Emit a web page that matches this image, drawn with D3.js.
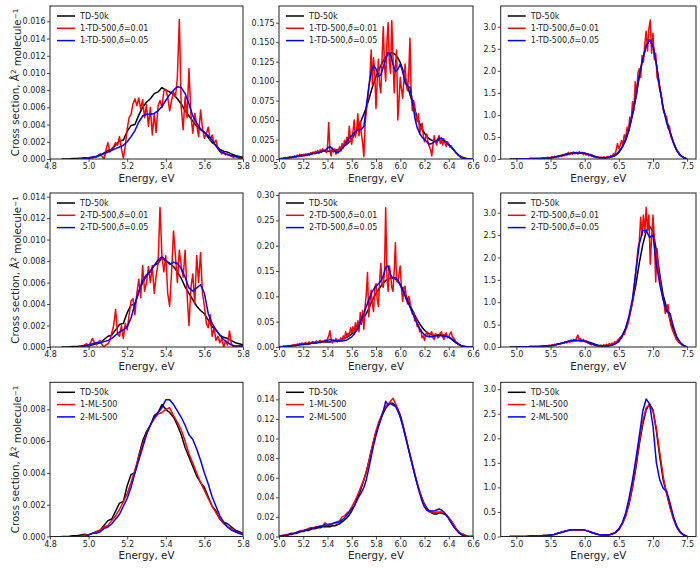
<!DOCTYPE html>
<html><head><meta charset="utf-8">
<script src="https://cdn.jsdelivr.net/npm/d3@7"></script>
<style>
body{margin:0;background:#fff}
svg{display:block}
text{font-family:"DejaVu Sans",sans-serif}
</style>
</head><body>
<svg id="c" width="700" height="569"></svg>
<script>
// ---------------- DATA ----------------
// Column 1 (4.8 - 5.8 eV)
const c1BlackStart = 4.86, c1BlackStep = 0.02;
const c1Black = [0.0000,0.0000,0.00002,0.00005,0.00005,0.0001,0.00015,0.0001,0.0002,0.0003,
0.0004,0.0007,0.0010,0.0011,0.0016,0.0021,0.0022,0.0032,0.0039,0.0040,
0.0051,0.0060,0.0066,0.0070,0.0076,0.0078,0.0083,0.0080,0.0078,0.0075,
0.0070,0.0064,0.0056,0.0050,0.0044,0.0038,0.0034,0.0031,0.0025,0.0019,
0.0016,0.0011,0.0009,0.0008,0.0006,0.0004,0.0003,0.0002];

const c1r1RedStart = 4.95, c1r1RedStep = 0.01;
const c1r1Red = [0.0000,0.0000,0.0001,0.0000,0.0001,0.0001,0.0002,0.0001,0.0003,0.0002,
0.0004,0.0006,0.0003,0.0000,0.0010,0.0019,0.0008,0.0012,0.0015,0.0019,
0.0016,0.0026,0.0012,0.0001,0.0015,0.0035,0.0048,0.0052,0.0064,0.0070,
0.0062,0.0071,0.0058,0.0069,0.0048,0.0063,0.0038,0.0060,0.0028,0.0052,
0.0031,0.0062,0.0068,0.0060,0.0079,0.0081,0.0072,0.0056,0.0068,0.0078,
0.0072,0.0095,0.0162,0.0060,0.0034,0.0072,0.0048,0.0105,0.0052,0.0030,
0.0053,0.0040,0.0026,0.0057,0.0036,0.0024,0.0030,0.0037,0.0022,0.0028,
0.0018,0.0022,0.0013,0.0009,0.0006,0.0008,0.0005,0.0006,0.0004,0.0003,
0.0002,0.0003,0.0002,0.0001,0.0001,0.0001];
const c1r1BlueStart = 4.96, c1r1BlueStep = 0.02;
const c1r1Blue = [0.0000,0.0001,0.0001,0.0002,0.0003,0.0005,0.0006,0.0008,0.0010,0.0012,
0.0014,0.0016,0.0020,0.0026,0.0033,0.0043,0.0050,0.0052,0.0052,0.0053,
0.0056,0.0061,0.0068,0.0075,0.0080,0.0084,0.0083,0.0076,0.0064,0.0050,
0.0042,0.0035,0.0031,0.0027,0.0022,0.0015,0.0009,0.0007,0.0005,0.0004,
0.0003,0.0002,0.0001];

const c1r2RedStart = 4.95, c1r2RedStep = 0.01;
const c1r2Red = [0.0000,0.0001,0.0000,0.0002,0.0003,0.0001,0.0004,0.0008,0.0004,0.0002,
0.0005,0.0006,0.0002,0.0000,0.0002,0.0003,0.0006,0.0013,0.0020,0.0035,
0.0012,0.0010,0.0020,0.0008,0.0022,0.0016,0.0030,0.0043,0.0045,0.0030,
0.0050,0.0063,0.0046,0.0076,0.0052,0.0060,0.0075,0.0060,0.0076,0.0050,
0.0066,0.0078,0.0130,0.0085,0.0070,0.0085,0.0050,0.0038,0.0070,0.0108,
0.0085,0.0060,0.0090,0.0075,0.0065,0.0090,0.0050,0.0020,0.0055,0.0068,
0.0040,0.0085,0.0060,0.0088,0.0050,0.0038,0.0022,0.0018,0.0030,0.0010,
0.0018,0.0006,0.0010,0.0004,0.0008,0.0000,0.0006,0.0002,0.0015,0.0003,
0.0000,0.0001,0.0001,0.0001,0.0001,0.0001];
const c1r2BlueStart = 4.96, c1r2BlueStep = 0.02;
const c1r2Blue = [0.0000,0.0001,0.0002,0.0003,0.0004,0.0004,0.0005,0.0006,0.0008,0.0011,
0.0014,0.0016,0.0019,0.0027,0.0040,0.0052,0.0062,0.0067,0.0071,0.0076,
0.0081,0.0084,0.0081,0.0077,0.0079,0.0078,0.0073,0.0065,0.0055,0.0052,
0.0055,0.0058,0.0050,0.0031,0.0022,0.0016,0.0011,0.0007,0.0004,0.0002,
0.0001,0.0001,0.0001];

const c1r3Start = 4.94, c1r3Step = 0.02;
const c1r3Red = [0.0000,0.0000,0.0001,0.0001,0.0002,0.0003,0.0004,0.0006,0.0007,0.0010,
0.0013,0.0017,0.0022,0.0027,0.0034,0.0042,0.0050,0.0058,0.0065,0.0070,
0.0074,0.0077,0.0078,0.0080,0.0081,0.0076,0.0072,0.0067,0.0060,0.0052,
0.0046,0.0040,0.0034,0.0029,0.0024,0.0019,0.0015,0.0011,0.0008,0.0006,
0.0005,0.0003,0.0002,0.0002];
const c1r3Blue = [0.0000,0.0000,0.0000,0.0001,0.0002,0.0002,0.0003,0.0005,0.0006,0.0008,
0.0011,0.0014,0.0019,0.0024,0.0031,0.0040,0.0048,0.0056,0.0064,0.0070,
0.0075,0.0078,0.0081,0.0086,0.0086,0.0083,0.0079,0.0075,0.0070,0.0064,
0.0061,0.0055,0.0048,0.0040,0.0033,0.0025,0.0019,0.0013,0.0009,0.0006,
0.0004,0.0003,0.0002,0.0001];

// Column 2 (5.0 - 6.6 eV)
const c2BlackStart = 5.0, c2BlackStep = 0.02;
const c2Black = [0.000,0.000,0.001,0.001,0.002,0.002,0.003,0.003,0.004,0.005,
0.005,0.006,0.006,0.007,0.008,0.008,0.009,0.009,0.010,0.010,
0.010,0.010,0.011,0.011,0.012,0.013,0.015,0.017,0.019,0.022,
0.026,0.031,0.037,0.043,0.050,0.058,0.066,0.076,0.087,0.097,
0.106,0.113,0.120,0.126,0.131,0.134,0.136,0.136,0.134,0.130,
0.124,0.115,0.105,0.094,0.083,0.073,0.063,0.054,0.046,0.039,
0.033,0.029,0.026,0.024,0.023,0.023,0.024,0.024,0.023,0.022,
0.019,0.016,0.012,0.008,0.005,0.003,0.002,0.001,0.000,0.000,
0.000];

const c2RedStart = 5.0, c2RedStep = 0.01;
const c2r1Red = [0.000,0.000,0.001,0.000,0.001,0.002,0.001,0.002,0.001,0.003,
0.002,0.003,0.002,0.004,0.003,0.005,0.003,0.006,0.004,0.005,
0.006,0.004,0.006,0.005,0.007,0.005,0.008,0.006,0.009,0.007,
0.010,0.008,0.011,0.007,0.012,0.009,0.013,0.010,0.012,0.008,
0.015,0.047,0.010,0.004,0.014,0.009,0.013,0.006,0.012,0.008,
0.016,0.010,0.020,0.014,0.024,0.018,0.028,0.022,0.042,0.025,
0.019,0.035,0.050,0.028,0.036,0.058,0.030,0.048,0.032,0.020,
0.003,0.045,0.060,0.075,0.090,0.105,0.140,0.095,0.130,0.110,
0.065,0.100,0.128,0.095,0.085,0.130,0.170,0.120,0.100,0.150,
0.175,0.125,0.110,0.178,0.130,0.085,0.120,0.140,0.050,0.075,
0.105,0.090,0.078,0.100,0.122,0.095,0.088,0.110,0.155,0.085,
0.062,0.075,0.068,0.055,0.048,0.058,0.032,0.040,0.046,0.030,
0.022,0.028,0.032,0.020,0.016,0.012,0.004,0.018,0.030,0.022,
0.018,0.026,0.030,0.020,0.024,0.018,0.026,0.020,0.016,0.022,
0.019,0.015,0.017,0.013,0.012,0.010,0.008,0.007,0.005,0.004,
0.003,0.002,0.001,0.001,0.000,0.000,0.000,0.000,0.000,0.000,
0.000];
const c2BlueStart = 5.0, c2BlueStep = 0.02;
const c2r1Blue = [0.000,0.000,0.001,0.001,0.002,0.002,0.003,0.003,0.004,0.004,
0.004,0.005,0.005,0.006,0.007,0.007,0.008,0.009,0.010,0.011,
0.014,0.016,0.013,0.010,0.008,0.010,0.013,0.017,0.022,0.027,
0.030,0.034,0.036,0.038,0.038,0.042,0.068,0.092,0.112,0.120,
0.116,0.106,0.108,0.118,0.128,0.137,0.134,0.122,0.112,0.115,
0.122,0.112,0.098,0.094,0.092,0.075,0.053,0.040,0.033,0.028,
0.025,0.022,0.019,0.020,0.022,0.024,0.026,0.027,0.024,0.021,
0.018,0.015,0.012,0.008,0.005,0.002,0.001,0.000,0.000,0.000,
0.000];

const c2r2Red = [0.000,0.001,0.000,0.001,0.002,0.001,0.002,0.001,0.003,0.002,
0.003,0.004,0.003,0.005,0.004,0.006,0.005,0.007,0.005,0.008,
0.006,0.007,0.009,0.006,0.008,0.010,0.007,0.009,0.011,0.008,
0.010,0.012,0.009,0.011,0.013,0.010,0.012,0.009,0.014,0.011,
0.016,0.022,0.032,0.015,0.008,0.013,0.011,0.017,0.010,0.014,
0.012,0.018,0.013,0.022,0.016,0.030,0.020,0.027,0.022,0.038,
0.028,0.040,0.025,0.048,0.032,0.052,0.030,0.068,0.045,0.072,
0.035,0.080,0.105,0.147,0.060,0.090,0.112,0.085,0.070,0.118,
0.125,0.095,0.080,0.130,0.165,0.120,0.118,0.150,0.275,0.140,
0.110,0.160,0.145,0.118,0.110,0.150,0.206,0.130,0.128,0.145,
0.160,0.115,0.090,0.118,0.120,0.095,0.085,0.100,0.090,0.075,
0.065,0.068,0.052,0.058,0.040,0.045,0.030,0.035,0.018,0.022,
0.013,0.025,0.030,0.022,0.020,0.028,0.030,0.018,0.015,0.026,
0.025,0.018,0.020,0.028,0.030,0.020,0.015,0.024,0.028,0.018,
0.020,0.026,0.030,0.020,0.018,0.014,0.010,0.008,0.006,0.004,
0.003,0.002,0.001,0.000,0.000,0.000,0.000,0.000,0.000,0.000,
0.000];
const c2r2Blue = [0.000,0.000,0.001,0.001,0.002,0.002,0.003,0.003,0.004,0.005,
0.005,0.006,0.006,0.007,0.008,0.008,0.009,0.010,0.011,0.012,
0.013,0.015,0.014,0.013,0.012,0.012,0.012,0.013,0.014,0.017,
0.020,0.026,0.033,0.042,0.055,0.067,0.080,0.093,0.105,0.114,
0.120,0.125,0.130,0.140,0.158,0.160,0.142,0.136,0.137,0.132,
0.122,0.112,0.100,0.090,0.079,0.068,0.057,0.045,0.036,0.029,
0.024,0.021,0.020,0.020,0.021,0.022,0.022,0.022,0.021,0.021,
0.020,0.017,0.013,0.009,0.006,0.003,0.001,0.000,0.000,0.000,
0.000];

const c2r3Red = [0.000,0.001,0.001,0.002,0.002,0.003,0.003,0.004,0.005,0.006,
0.006,0.007,0.008,0.009,0.008,0.010,0.010,0.011,0.011,0.014,
0.012,0.013,0.013,0.014,0.015,0.016,0.020,0.021,0.024,0.026,
0.030,0.035,0.040,0.046,0.052,0.058,0.066,0.076,0.087,0.098,
0.108,0.116,0.122,0.128,0.133,0.135,0.138,0.141,0.136,0.130,
0.122,0.114,0.104,0.094,0.084,0.074,0.064,0.055,0.046,0.038,
0.032,0.027,0.025,0.025,0.024,0.025,0.025,0.025,0.024,0.022,
0.019,0.016,0.012,0.008,0.005,0.003,0.002,0.001,0.000,0.000,
0.000];
const c2r3Blue = [0.000,0.001,0.001,0.001,0.002,0.003,0.003,0.004,0.005,0.005,
0.006,0.007,0.007,0.008,0.009,0.009,0.010,0.010,0.011,0.012,
0.011,0.012,0.013,0.014,0.014,0.015,0.017,0.019,0.022,0.025,
0.028,0.031,0.036,0.041,0.045,0.050,0.058,0.069,0.081,0.093,
0.103,0.112,0.120,0.128,0.138,0.134,0.136,0.134,0.133,0.128,
0.122,0.113,0.103,0.093,0.083,0.073,0.063,0.053,0.044,0.036,
0.030,0.027,0.026,0.026,0.026,0.027,0.028,0.027,0.025,0.022,
0.018,0.014,0.010,0.007,0.004,0.002,0.001,0.000,0.000,0.000,
0.000];

// Column 3 (4.77 - 7.63 eV)
const c3SmoothStart = 4.9, c3SmoothStep = 0.05;
const c3Black = [0,0,0,0,0,0,0.01,0.01,0.01,0.01,
0.02,0.02,0.03,0.04,0.06,0.08,0.10,0.12,0.13,0.14,
0.14,0.14,0.13,0.11,0.09,0.06,0.04,0.03,0.03,0.03,
0.05,0.08,0.15,0.26,0.42,0.66,1.00,1.40,1.88,2.28,
2.58,2.70,2.58,2.15,1.62,1.15,0.88,0.62,0.38,0.20,
0.09,0.03,0.00];
const c3RedStart = 5.3, c3RedStep = 0.02;
const c3r1Red = [0.00,0.01,0.00,0.02,0.01,0.03,0.01,0.02,0.04,0.02,
0.03,0.05,0.03,0.06,0.04,0.07,0.05,0.08,0.06,0.09,
0.07,0.11,0.09,0.15,0.10,0.13,0.11,0.16,0.12,0.15,
0.11,0.17,0.13,0.15,0.10,0.13,0.09,0.12,0.07,0.10,
0.06,0.08,0.04,0.06,0.03,0.05,0.02,0.04,0.03,0.05,
0.02,0.04,0.06,0.03,0.08,0.05,0.12,0.09,0.20,0.35,
0.24,0.30,0.42,0.33,0.55,0.45,0.72,0.62,0.95,0.85,
1.30,1.10,1.75,1.45,1.95,2.05,1.85,2.35,2.20,2.60,
2.90,2.45,2.95,3.15,2.40,2.85,2.25,2.40,1.85,1.75,
1.55,1.50,1.20,1.05,1.00,0.95,0.70,0.75,0.52,0.45,
0.38,0.28,0.22,0.18,0.12,0.09,0.06,0.04,0.02,0.01,
0.00];
const c3BlueStart = 5.0, c3BlueStep = 0.05;
const c3r1Blue = [0,0,0,0,0.01,0.01,0.01,0.01,0.01,0.02,
0.03,0.04,0.05,0.07,0.09,0.11,0.13,0.14,0.13,0.14,
0.13,0.11,0.08,0.05,0.03,0.03,0.03,0.04,0.06,0.09,
0.17,0.28,0.45,0.68,1.02,1.42,1.90,2.25,2.55,2.70,
2.55,2.15,1.60,1.15,0.82,0.60,0.36,0.18,0.08,0.03,
0.00];
const c3r2Red = [0.00,0.01,0.01,0.02,0.01,0.02,0.03,0.02,0.03,0.04,
0.03,0.05,0.04,0.06,0.05,0.07,0.06,0.08,0.07,0.10,
0.08,0.12,0.09,0.14,0.10,0.16,0.12,0.17,0.13,0.20,
0.27,0.15,0.19,0.13,0.17,0.12,0.14,0.10,0.08,0.06,
0.05,0.07,0.03,0.04,0.02,0.03,0.02,0.04,0.02,0.05,
0.03,0.06,0.03,0.08,0.05,0.09,0.06,0.12,0.10,0.15,
0.18,0.22,0.20,0.30,0.28,0.38,0.45,0.55,0.70,0.85,
1.00,1.25,1.55,1.85,2.20,2.35,2.90,2.50,2.95,2.55,
3.12,2.60,2.95,1.85,2.45,2.95,2.40,1.45,2.20,1.70,
1.55,1.30,1.15,1.00,0.75,0.85,0.95,0.65,0.50,0.40,
0.32,0.25,0.18,0.14,0.10,0.08,0.05,0.03,0.02,0.01,
0.00];
const c3r2Blue = [0,0,0,0,0.01,0.01,0.01,0.01,0.02,0.02,
0.03,0.04,0.06,0.08,0.10,0.12,0.14,0.15,0.15,0.14,
0.13,0.10,0.07,0.05,0.03,0.02,0.02,0.03,0.04,0.07,
0.12,0.24,0.42,0.70,1.08,1.70,2.30,2.60,2.60,2.45,
2.50,1.85,1.40,1.05,0.80,0.75,0.45,0.22,0.10,0.03,
0.00];
const c3r3Red = [0,0,0,0,0,0,0.01,0.01,0.01,0.01,
0.02,0.02,0.03,0.04,0.06,0.08,0.10,0.12,0.13,0.14,
0.14,0.14,0.13,0.11,0.08,0.06,0.04,0.03,0.03,0.03,
0.05,0.08,0.14,0.25,0.42,0.68,1.02,1.45,1.92,2.35,
2.62,2.68,2.55,2.20,1.70,1.22,0.88,0.58,0.35,0.18,
0.08,0.03,0.00];
const c3r3Blue = [0,0,0,0,0,0,0.01,0.01,0.01,0.01,
0.02,0.02,0.03,0.04,0.06,0.08,0.10,0.12,0.13,0.14,
0.14,0.14,0.13,0.11,0.08,0.06,0.04,0.03,0.03,0.03,
0.05,0.08,0.15,0.28,0.48,0.78,1.15,1.58,2.05,2.55,
2.80,2.70,2.25,1.50,1.15,0.98,0.92,0.68,0.40,0.20,
0.09,0.03,0.00];

// Axis ticks
const xTicks1 = [4.8,5.0,5.2,5.4,5.6,5.8];
const xTicks2 = [5.0,5.2,5.4,5.6,5.8,6.0,6.2,6.4,6.6];
const xTicks3 = [5.0,5.5,6.0,6.5,7.0,7.5];
const yTicksR1 = [[0,0.002,0.004,0.006,0.008,0.010,0.012,0.014,0.016],
                  [0,0.025,0.050,0.075,0.100,0.125,0.150,0.175],
                  [0,0.5,1.0,1.5,2.0,2.5,3.0]];
const yTicksR2 = [[0,0.002,0.004,0.006,0.008,0.010,0.012,0.014],
                  [0,0.05,0.10,0.15,0.20,0.25,0.30],
                  [0,0.5,1.0,1.5,2.0,2.5,3.0]];
const yTicksR3 = [[0,0.002,0.004,0.006,0.008],
                  [0,0.02,0.04,0.06,0.08,0.10,0.12,0.14],
                  [0,0.5,1.0,1.5,2.0,2.5,3.0]];
const legendR1 = ["TD-50k","1-TD-500,δ=0.01","1-TD-500,δ=0.05"];
const legendR2 = ["TD-50k","2-TD-500,δ=0.01","2-TD-500,δ=0.05"];
const legendR3 = ["TD-50k","1-ML-500","2-ML-500"];

// ---------------- LAYOUT ----------------
const colBox = [[50,243],[279,473],[500.7,696]];
const rowBox = [[6,159],[193,347],[382.3,536.5]];
const xDomains = [[4.8,5.8],[5.0,6.6],[4.77,7.63]];
const xTicksAll = [xTicks1,xTicks2,xTicks3];
const yMax = [[0.01778,0.1965,3.47],[0.01434,0.304,3.44],[0.0097,0.1574,3.14]];
const yFmt = [[".3f",".3f",".1f"],[".3f",".2f",".1f"],[".3f",".2f",".1f"]];
const yTicksAll = [yTicksR1,yTicksR2,yTicksR3];
const legends = [legendR1,legendR2,legendR3];
const colors = ["#000000","#ff0000","#0000ff"];

function S(start,step,vals){return {start,step,vals};}
const series = [
 [ [S(c1BlackStart,c1BlackStep,c1Black),S(c1r1RedStart,c1r1RedStep,c1r1Red),S(c1r1BlueStart,c1r1BlueStep,c1r1Blue)],
   [S(c2BlackStart,c2BlackStep,c2Black),S(c2RedStart,c2RedStep,c2r1Red),S(c2BlueStart,c2BlueStep,c2r1Blue)],
   [S(c3SmoothStart,c3SmoothStep,c3Black),S(c3RedStart,c3RedStep,c3r1Red),S(c3BlueStart,c3BlueStep,c3r1Blue)] ],
 [ [S(c1BlackStart,c1BlackStep,c1Black),S(c1r2RedStart,c1r2RedStep,c1r2Red),S(c1r2BlueStart,c1r2BlueStep,c1r2Blue)],
   [S(c2BlackStart,c2BlackStep,c2Black),S(c2RedStart,c2RedStep,c2r2Red),S(c2BlueStart,c2BlueStep,c2r2Blue)],
   [S(c3SmoothStart,c3SmoothStep,c3Black),S(c3RedStart,c3RedStep,c3r2Red),S(c3BlueStart,c3BlueStep,c3r2Blue)] ],
 [ [S(c1BlackStart,c1BlackStep,c1Black),S(c1r3Start,c1r3Step,c1r3Red),S(c1r3Start,c1r3Step,c1r3Blue)],
   [S(c2BlackStart,c2BlackStep,c2Black),S(c2BlueStart,c2BlueStep,c2r3Red),S(c2BlueStart,c2BlueStep,c2r3Blue)],
   [S(c3SmoothStart,c3SmoothStep,c3Black),S(c3SmoothStart,c3SmoothStep,c3r3Red),S(c3SmoothStart,c3SmoothStep,c3r3Blue)] ]
];

const svg = d3.select("#c");
let clipId = 0;

for (let r=0;r<3;r++){
  for (let c=0;c<3;c++){
    const [x0,x1] = colBox[c], [y0,y1] = rowBox[r];
    const xs = d3.scaleLinear().domain(xDomains[c]).range([x0,x1]);
    const ys = d3.scaleLinear().domain([0,yMax[r][c]]).range([y1,y0]);
    const g = svg.append("g");
    const id = "clip"+(clipId++);
    g.append("clipPath").attr("id",id).append("rect")
      .attr("x",x0).attr("y",y0).attr("width",x1-x0).attr("height",y1-y0);
    const plot = g.append("g").attr("clip-path",`url(#${id})`);
    series[r][c].forEach((s,k)=>{
      const line = d3.line().x((v,i)=>xs(s.start+i*s.step)).y(v=>ys(v));
      plot.append("path").attr("d",line(s.vals)).attr("fill","none")
        .attr("stroke",colors[k]).attr("stroke-width",1.5).attr("stroke-linejoin","round");
    });
    // axes
    const ax = g.append("g").attr("transform",`translate(0,${y1})`)
      .call(d3.axisBottom(xs).tickValues(xTicksAll[c]).tickFormat(d3.format(".1f")).tickSize(3).tickPadding(1.5).tickSizeOuter(0));
    const ay = g.append("g").attr("transform",`translate(${x0},0)`)
      .call(d3.axisLeft(ys).tickValues(yTicksAll[r][c]).tickFormat(d3.format(yFmt[r][c])).tickSize(3).tickPadding(1.5).tickSizeOuter(0));
    [ax,ay].forEach(a=>{
      a.select(".domain").remove();
      a.attr("font-family",null).attr("font-size",null);
      a.selectAll("text").attr("font-size","8px").attr("fill","#222").style("font-family",'"DejaVu Sans",sans-serif');
      a.selectAll("line").attr("stroke","#222").attr("stroke-width",0.8);
    });
    // frame
    g.append("rect").attr("x",x0).attr("y",y0).attr("width",x1-x0).attr("height",y1-y0)
      .attr("fill","none").attr("stroke","#222").attr("stroke-width",1);
    // x label
    g.append("text").attr("x",(x0+x1)/2).attr("y",y1+22.7).attr("text-anchor","middle")
      .attr("font-size","10.3px").attr("fill","#222").text("Energy, eV");
    // y label
    if (c===0){
      const t = g.append("text").attr("transform",`translate(19.3,${(y0+y1)/2}) rotate(-90)`)
        .attr("text-anchor","middle").attr("font-size","10.3px").attr("fill","#222");
      t.append("tspan").text("Cross section, Å");
      t.append("tspan").attr("dy","-0.42em").attr("font-size","7.2px").text("2");
      t.append("tspan").attr("dy","0.42em").text(" molecule");
      t.append("tspan").attr("dy","-0.42em").attr("font-size","7.2px").text("−1");
    }
    // legend
    legends[r].forEach((lab,k)=>{
      const ly = y0 + 10 + k*12.3;
      g.append("line").attr("x1",x0+7).attr("x2",x0+25).attr("y1",ly).attr("y2",ly)
        .attr("stroke",colors[k]).attr("stroke-width",1.5);
      const t = g.append("text").attr("x",x0+30).attr("y",ly).attr("dy","0.35em")
        .attr("font-size","8px").attr("fill","#222");
      const parts = lab.split("δ");
      parts.forEach((p,i)=>{
        if (i>0) t.append("tspan").attr("font-style","italic").text("δ");
        t.append("tspan").text(p);
      });
    });
  }
}
</script>
</body></html>
